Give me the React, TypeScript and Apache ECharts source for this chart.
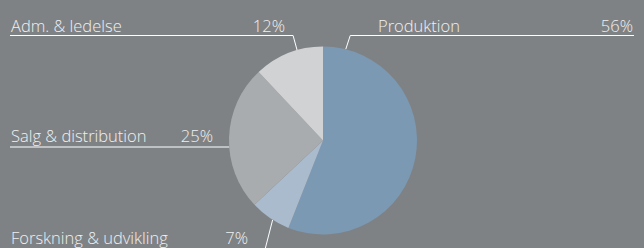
import React, { useEffect, useRef } from 'react';
import * as echarts from 'echarts';

// ---- data ----
const categories = ['Produktion', 'Forskning & udvikling', 'Salg & distribution', 'Adm. & ledelse'];
const shares = [56, 7, 25, 12];

// ---- styles / layout ----
const sliceColors = ['#7b99b3', '#aabbcd', '#a9acae', '#d1d2d4'];
const BG = '#7f8285';
const CX = 323;
const CY = 140.5;
const R = 94;
const labelBoxX = [378, 11, 11, 11];
const labelBoxW = [255, 237, 202, 274];
const labelMidY = [25.5, 237.5, 135.5, 25.5];
const lineY = [35.5, 251, 147, 35.5];
const lineEndX = [634, 10, 10, 10];
const anchorDeg = [14, 212.4, 266, 344];
const elbowDX = [4.5, -8, 0, -4];

const FONT = { fontFamily: 'Open Sans', fontSize: 16.5, fontWeight: 300 as any, color: '#f0f0f0' };

export default function App() {
  const ref = useRef<HTMLDivElement>(null);
  useEffect(() => {
    document.body.style.margin = '0';
    document.body.style.background = BG;
    const chart = echarts.init(ref.current!, null, { renderer: 'svg' });
    chart.setOption({
      animation: false,
      backgroundColor: BG,
      series: [
        {
          type: 'pie',
          center: [CX, CY],
          radius: R,
          startAngle: 90,
          clockwise: true,
          avoidLabelOverlap: false,
          silent: true,
          data: categories.map((name, i) => ({
            name,
            value: shares[i],
            itemStyle: { color: sliceColors[i] },
            label: { width: labelBoxW[i] },
          })),
          label: {
            show: true,
            position: 'outside',
            ...FONT,
            formatter: (p: any) => `{n|${p.name}}{p|${p.value}%}`,
            rich: {
              n: { ...FONT, align: 'left' },
              p: { ...FONT, align: 'right' },
            },
          },
          labelLine: { show: true, smooth: false, lineStyle: { color: '#ffffff', width: 1 } },
          labelLayout: (params: any) => {
            const i = params.dataIndex;
            const a = (anchorDeg[i] * Math.PI) / 180;
            const ax = CX + R * Math.sin(a);
            const ay = CY - R * Math.cos(a);
            return {
              x: labelBoxX[i],
              y: labelMidY[i],
              align: 'left',
              verticalAlign: 'middle',
              labelLinePoints: [
                [ax, ay],
                [ax + elbowDX[i], lineY[i]],
                [lineEndX[i], lineY[i]],
              ],
            };
          },
        },
      ],
    });
    return () => chart.dispose();
  }, []);
  return <div ref={ref} style={{ width: 644, height: 248 }} />;
}
